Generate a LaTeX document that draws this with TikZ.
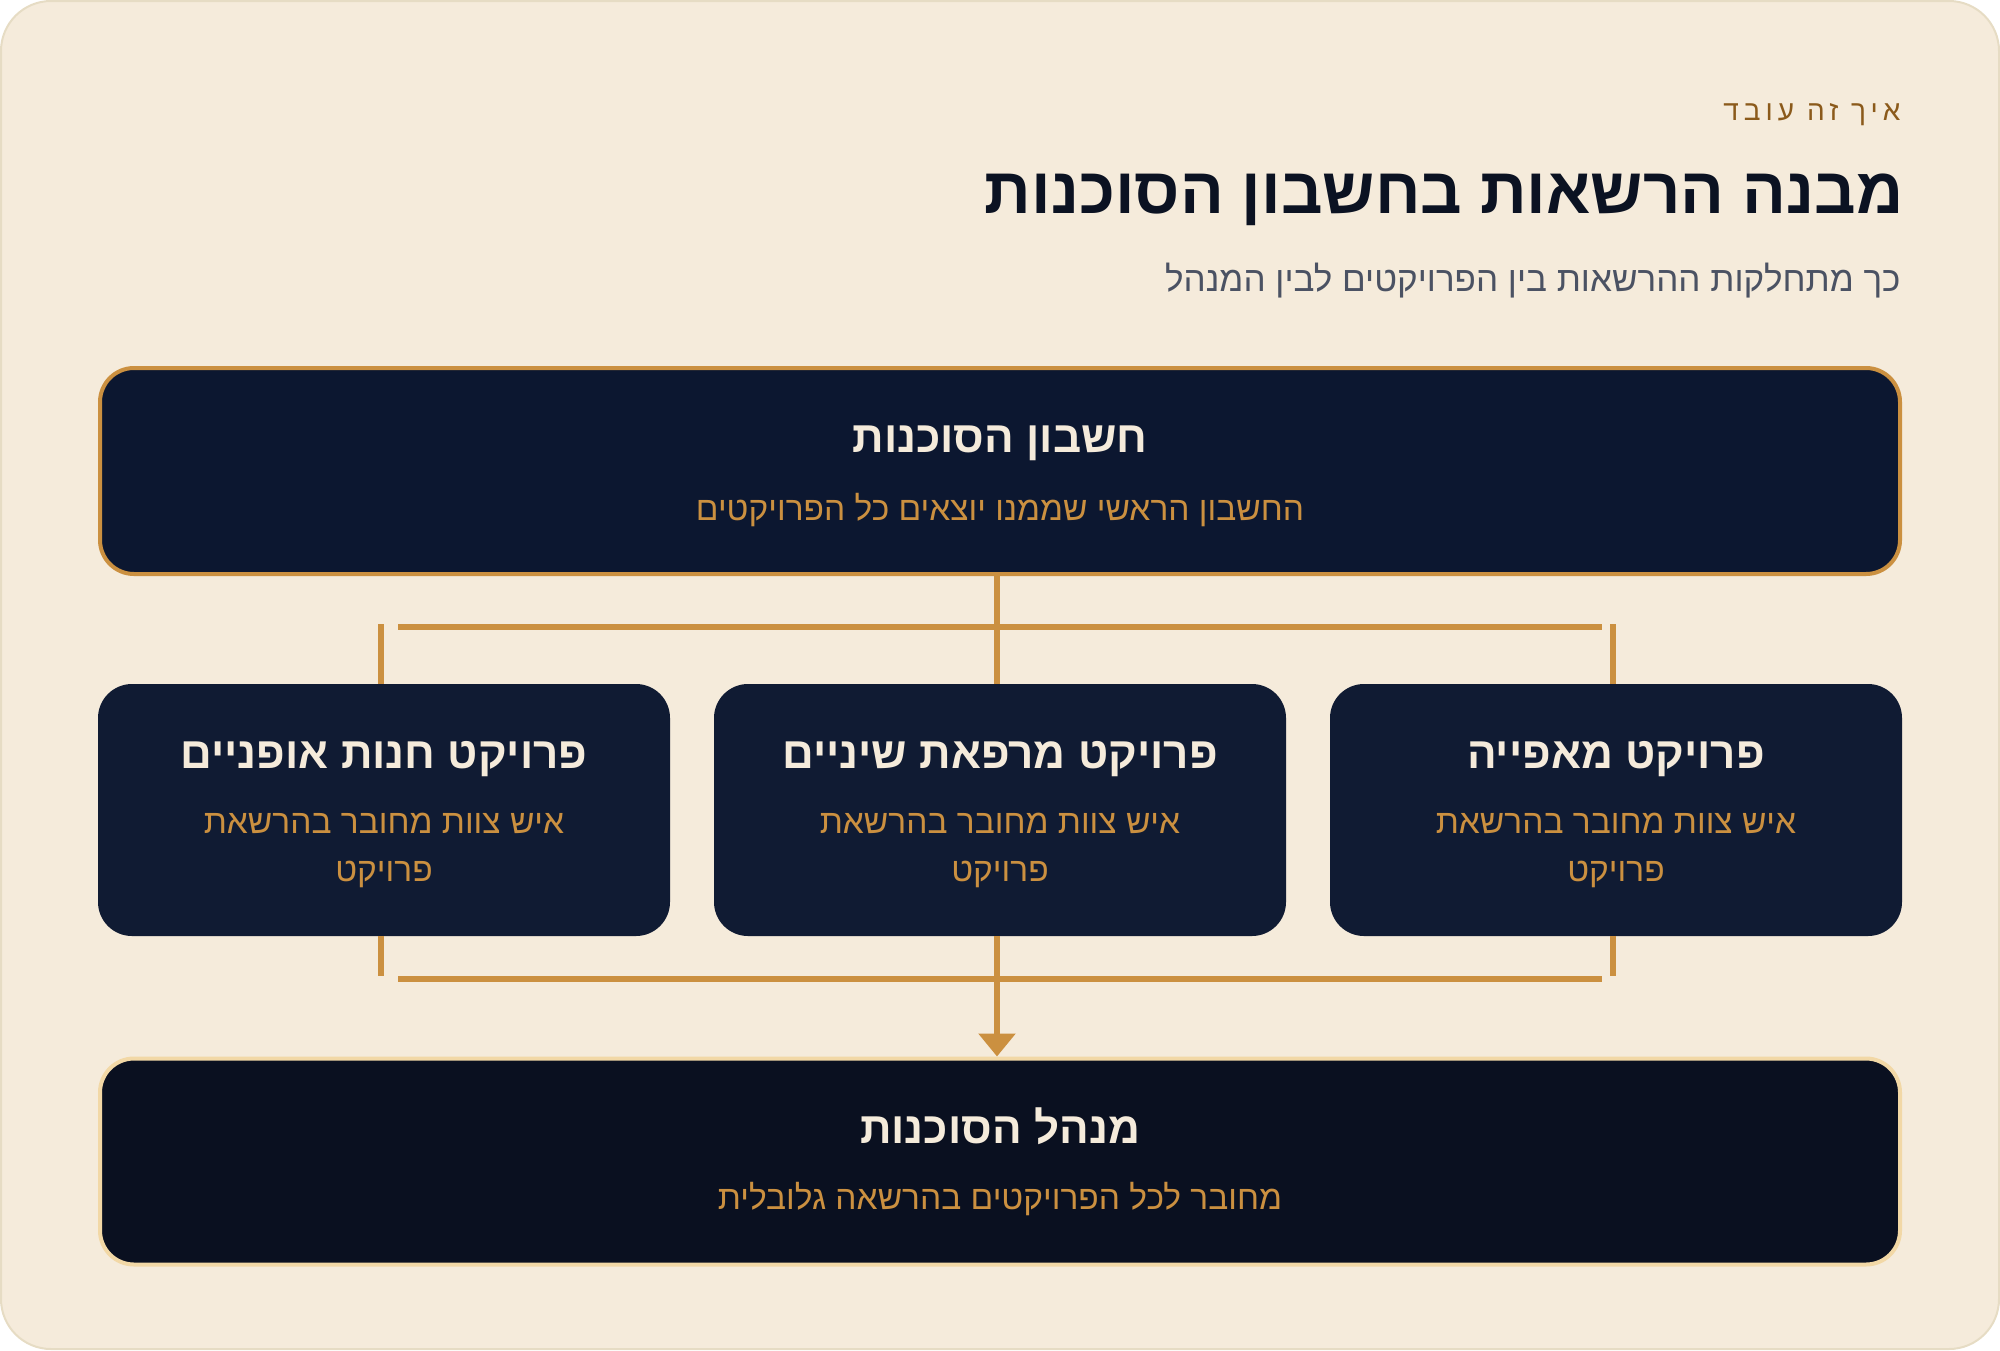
\documentclass[tikz,border=0pt]{standalone}
\usepackage{fontspec}
\setmainfont{Liberation Sans}
\newfontfamily\hebfont[Script=Hebrew]{Liberation Sans}
\newfontfamily\hebspaced[Script=Hebrew,LetterSpace=18]{Liberation Sans}
\TeXXeTstate=1
\usetikzlibrary{arrows.meta}

\definecolor{paper}{HTML}{F5EBDB}
\definecolor{paperline}{HTML}{E6DCC4}
\definecolor{gold}{HTML}{CB9040}
\definecolor{palegold}{HTML}{F2D8A6}
\definecolor{ink}{HTML}{0B1222}
\definecolor{slate}{HTML}{4B5263}
\definecolor{brown}{HTML}{8B5A1B}
\definecolor{cream}{HTML}{F5EBDB}
\definecolor{navytop}{HTML}{0C1730}
\definecolor{navymid}{HTML}{101B33}
\definecolor{navybot}{HTML}{0A1020}

\begin{document}
\begin{tikzpicture}[x=1pt,y=-1pt]

\tikzset{box/.style = {rounded corners=34pt, minimum width=572pt, minimum height=252pt, inner sep=0pt}}
\tikzset{widebox/.style = {box, minimum width=1800pt, minimum height=206pt, line width=4pt}}
\tikzset{boxtitle/.style = {text=cream, font=\hebfont\bfseries\fontsize{44}{50}\selectfont, anchor=mid}}
\tikzset{boxsub/.style = {text=gold, font=\hebfont\fontsize{33.5}{40}\selectfont, anchor=mid}}
\tikzset{link/.style = {draw=gold, line width=6pt}}
\tikzset{arrowlink/.style = {link, -{Triangle[length=23pt,width=36pt]}}}

\useasboundingbox (0,0) rectangle (2000,1350);
\draw[fill=paper, draw=paperline, line width=2pt, rounded corners=50pt] (1,1) rectangle (1999,1349);

%heading
\node[text=brown, font=\hebspaced\fontsize{28}{32}\selectfont, anchor=mid east] (kicker) at (1904,117.5) {\beginR איך זה עובד\endR};
\node[text=ink, font=\hebfont\bfseries\fontsize{65}{70}\selectfont, anchor=mid east] (title) at (1907,210.5) {\beginR מבנה הרשאות בחשבון הסוכנות\endR};
\node[text=slate, font=\hebfont\fontsize{35}{40}\selectfont, anchor=mid east] (subtitle) at (1904,288.5) {\beginR כך מתחלקות ההרשאות בין הפרויקטים לבין המנהל\endR};

%boxes
\node[widebox, fill=navytop, draw=gold] (account) at (1000,471) {};
\node[box, fill=navymid] (bikes) at (384,810) {};
\node[box, fill=navymid] (dental) at (1000,810) {};
\node[box, fill=navymid] (bakery) at (1616,810) {};
\node[widebox, fill=navybot, draw=palegold] (manager) at (1000,1161.5) {};

%texts
\node[boxtitle] (accountT) at (1000,450) {\beginR חשבון הסוכנות\endR};
\node[boxsub] (accountS) at (1000,517.5) {\beginR החשבון הראשי שממנו יוצאים כל הפרויקטים\endR};
\node[boxtitle] (bikesT) at (384,766) {\beginR פרויקט חנות אופניים\endR};
\node[boxtitle] (dentalT) at (1000,766) {\beginR פרויקט מרפאת שיניים\endR};
\node[boxtitle] (bakeryT) at (1616,766) {\beginR פרויקט מאפייה\endR};
\node[boxsub] (bikesS) at (384,830.5) {\beginR איש צוות מחובר בהרשאת\endR};
\node[boxsub] (bikesS2) at (384,878.5) {\beginR פרויקט\endR};
\node[boxsub] (dentalS) at (1000,830.5) {\beginR איש צוות מחובר בהרשאת\endR};
\node[boxsub] (dentalS2) at (1000,878.5) {\beginR פרויקט\endR};
\node[boxsub] (bakeryS) at (1616,830.5) {\beginR איש צוות מחובר בהרשאת\endR};
\node[boxsub] (bakeryS2) at (1616,878.5) {\beginR פרויקט\endR};
\node[boxtitle] (managerT) at (1000,1141) {\beginR מנהל הסוכנות\endR};
\node[boxsub] (managerS) at (1000,1206.5) {\beginR מחובר לכל הפרויקטים בהרשאה גלובלית\endR};

%edges
\coordinate (upL) at (398,627);
\coordinate (upR) at (1602,627);
\coordinate (lowL) at (398,979);
\coordinate (lowR) at (1602,979);
\draw[link] ([xshift=-3pt]account.south) -- ([xshift=-3pt]dental.north);
\draw[link] (upL) -- (upR);
\draw[link] ([xshift=-3pt]bikes.north) -- ++(0,-60);
\draw[link] ([xshift=-3pt]bakery.north) -- ++(0,-60);
\draw[link] (lowL) -- (lowR);
\draw[link] ([xshift=-3pt]bikes.south) -- ++(0,40);
\draw[link] ([xshift=-3pt]bakery.south) -- ++(0,40);
\draw[arrowlink] ([xshift=-3pt]dental.south) -- ([xshift=-3pt]manager.north);

\end{tikzpicture}
\end{document}
